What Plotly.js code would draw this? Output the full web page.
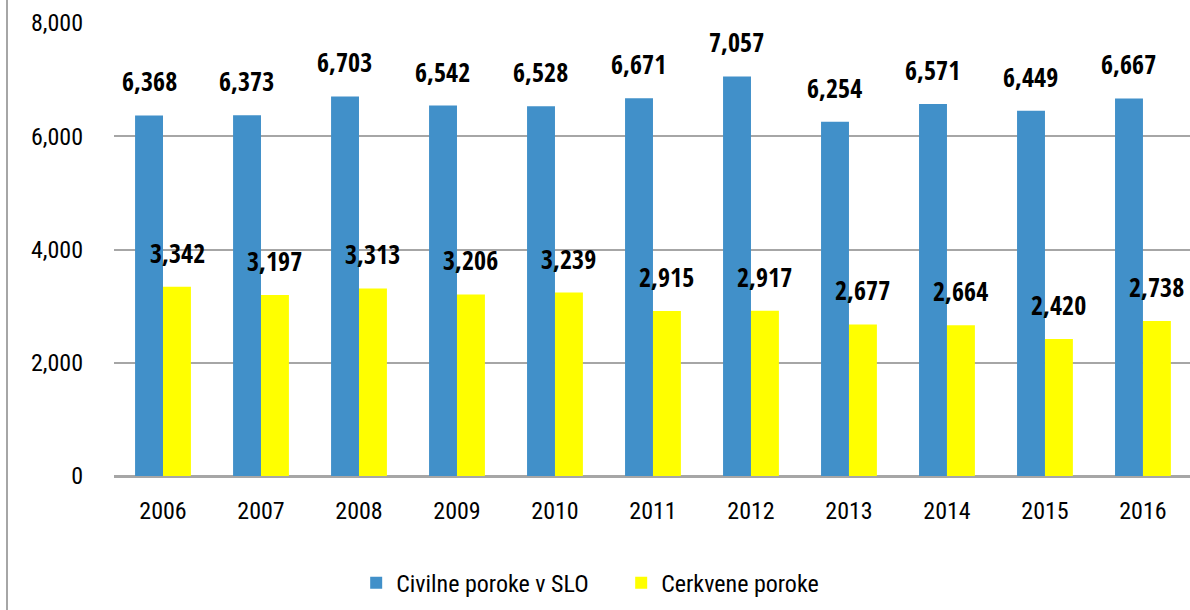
<!DOCTYPE html>
<html>
<head>
<meta charset="utf-8">
<script src="https://cdn.plot.ly/plotly-3.0.1.min.js"></script>
<style>html,body{margin:0;padding:0;background:#fff;}#chart{width:1190px;height:610px;}</style>
</head>
<body>
<div id="chart"></div>
<script>
const years = ['2006','2007','2008','2009','2010','2011','2012','2013','2014','2015','2016'];
const civilne = [6368, 6373, 6703, 6542, 6528, 6671, 7057, 6254, 6571, 6449, 6667];
const cerkvene = [3342, 3197, 3313, 3206, 3239, 2915, 2917, 2677, 2664, 2420, 2738];
const seriesNames = ['Civilne poroke v SLO', 'Cerkvene poroke'];
const yTicks = [0, 2000, 4000, 6000, 8000];

const FONT = 'Roboto Condensed, Open Sans Condensed, sans-serif';
const BFONT = 'Open Sans Condensed, Roboto Condensed, sans-serif';
const BLUE = '#4190C9';
const YELLOW = '#FFFF00';

const traces = [
  {type:'bar', name: seriesNames[0], x: years, y: civilne, marker:{color: BLUE}, hoverinfo:'none'},
  {type:'bar', name: seriesNames[1], x: years, y: cerkvene, marker:{color: YELLOW}, hoverinfo:'none'}
];

const fmt = v => v.toLocaleString('en-US');
const annotations = [];
years.forEach((yr, i) => {
  // category axis: annotation x given as category index
  annotations.push({x: i, y: civilne[i], xref:'x', yref:'y', text: fmt(civilne[i]), showarrow:false,
    xshift:-14, yshift:14, yanchor:'bottom', font:{family:BFONT, size:26, color:'#000', weight:700}});
  annotations.push({x: i, y: cerkvene[i], xref:'x', yref:'y', text: fmt(cerkvene[i]), showarrow:false,
    xshift:14, yshift:14, yanchor:'bottom', font:{family:BFONT, size:26, color:'#000', weight:700}});
});

const layout = {
  width: 1190, height: 610,
  margin: {l:114, r:0, t:23, b:134},
  paper_bgcolor:'#fff', plot_bgcolor:'#fff',
  barmode:'group', bargap:0.43, bargroupgap:0,
  font:{family:FONT, size:23, color:'#000'},
  xaxis:{type:'category', range:[-0.5, 10.48], showgrid:false, zeroline:false, showline:false,
    ticks:'', tickfont:{family:FONT, size:24, color:'#000'}, ticklabelstandoff:18},
  yaxis:{range:[0, 8000], tickvals: yTicks, ticktext: yTicks.map(fmt), showgrid:true,
    gridcolor:'#A6A6A6', gridwidth:2, zeroline:true, zerolinecolor:'#A6A6A6', zerolinewidth:3,
    showline:false, ticks:'', tickfont:{family:FONT, size:24, color:'#000'}, ticklabelstandoff:30},
  showlegend:true,
  legend:{orientation:'h', xref:'container', yref:'container', x:0.522, xanchor:'center', y:0.044, yanchor:'middle',
    font:{family:FONT, size:24, color:'#000'}, entrywidth:220, entrywidthmode:'pixels'},
  annotations: annotations,
  shapes:[{type:'line', xref:'paper', yref:'paper', x0:(7-114)/1076, x1:(7-114)/1076, y0:-134/453, y1:(453+23)/453,
    line:{color:'#A6A6A6', width:2}}]
};

Plotly.newPlot('chart', traces, layout, {staticPlot:true, displayModeBar:false});
</script>
</body>
</html>
